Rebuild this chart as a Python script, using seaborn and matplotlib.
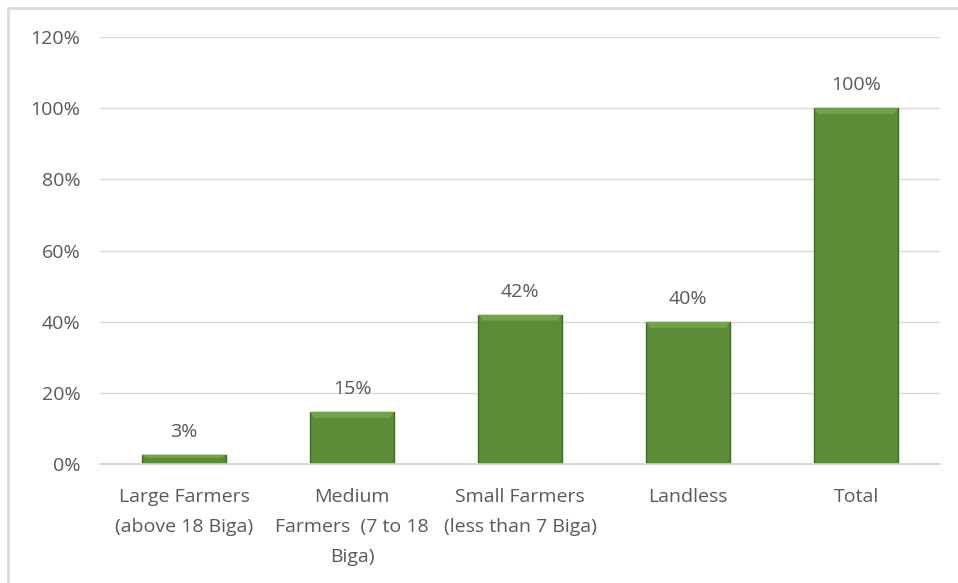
import matplotlib
matplotlib.use("Agg")
import matplotlib.pyplot as plt
import seaborn as sns
import pandas as pd
from matplotlib.lines import Line2D
from matplotlib.patches import Polygon

categories = [
    "Large Farmers\n(above 18 Biga)",
    "Medium\nFarmers  (7 to 18\nBiga)",
    "Small Farmers\n(less than 7 Biga)",
    "Landless",
    "Total",
]
values = [2.6, 14.6, 41.9, 39.9, 100.0]
yticks = [0, 20, 40, 60, 80, 100, 120]

df = pd.DataFrame({"cat": categories, "val": values})

sns.set_theme(style="white")
plt.rcParams["font.family"] = ["Open Sans", "DejaVu Sans"]

fig = plt.figure(figsize=(9.58, 5.83), dpi=100)
ax = fig.add_axes([100 / 958, 1 - 464 / 583, 840 / 958, 427 / 583])

sns.barplot(data=df, x="cat", y="val", ax=ax, color="#5B8C38",
            width=0.5, saturation=1, edgecolor="#426A28", linewidth=1.0)

# bevel highlight on top of bars
for p in ax.patches:
    x0, y0 = p.get_x(), p.get_y()
    w, h = p.get_width(), p.get_height()
    bev = min(1.6, h * 0.35)
    dx = w * 0.05
    poly = Polygon([[x0, y0 + h], [x0 + w, y0 + h], [x0 + w - dx, y0 + h - bev],
                    [x0 + dx, y0 + h - bev]], closed=True,
                   facecolor="#74A24C", edgecolor="none", zorder=p.get_zorder() + 0.1)
    ax.add_patch(poly)

ax.set_ylim(0, 120)
ax.set_xlim(-0.5, len(categories) - 0.5)
ax.set_yticks(yticks)
ax.set_yticklabels([f"{t}%" for t in yticks])
ax.yaxis.grid(True, color="#D9D9D9", linewidth=1.0)
ax.set_axisbelow(True)
for s in ["top", "right", "left"]:
    ax.spines[s].set_visible(False)
ax.spines["bottom"].set_color("#D0D0D0")
ax.spines["bottom"].set_linewidth(1.2)
ax.tick_params(axis="both", length=0, colors="#595959", labelsize=14)
ax.tick_params(axis="y", pad=14)
ax.tick_params(axis="x", pad=17)
for lab in ax.get_xticklabels():
    lab.set_linespacing(1.88)
ax.set_xlabel("")
ax.set_ylabel("")

for i, v in enumerate(values):
    ax.annotate(f"{v:.0f}%", xy=(i, v), xytext=(0, 10), textcoords="offset points",
                ha="center", va="bottom", fontsize=14, color="#595959")

# figure border (left and top)
fig.add_artist(Line2D([8 / 958, 8 / 958], [0, 1 - 8 / 583], transform=fig.transFigure,
                      color="#D9D9D9", linewidth=2))
fig.add_artist(Line2D([8 / 958, 1], [1 - 8 / 583, 1 - 8 / 583], transform=fig.transFigure,
                      color="#D9D9D9", linewidth=2))

fig.savefig("out.png", dpi=100)
